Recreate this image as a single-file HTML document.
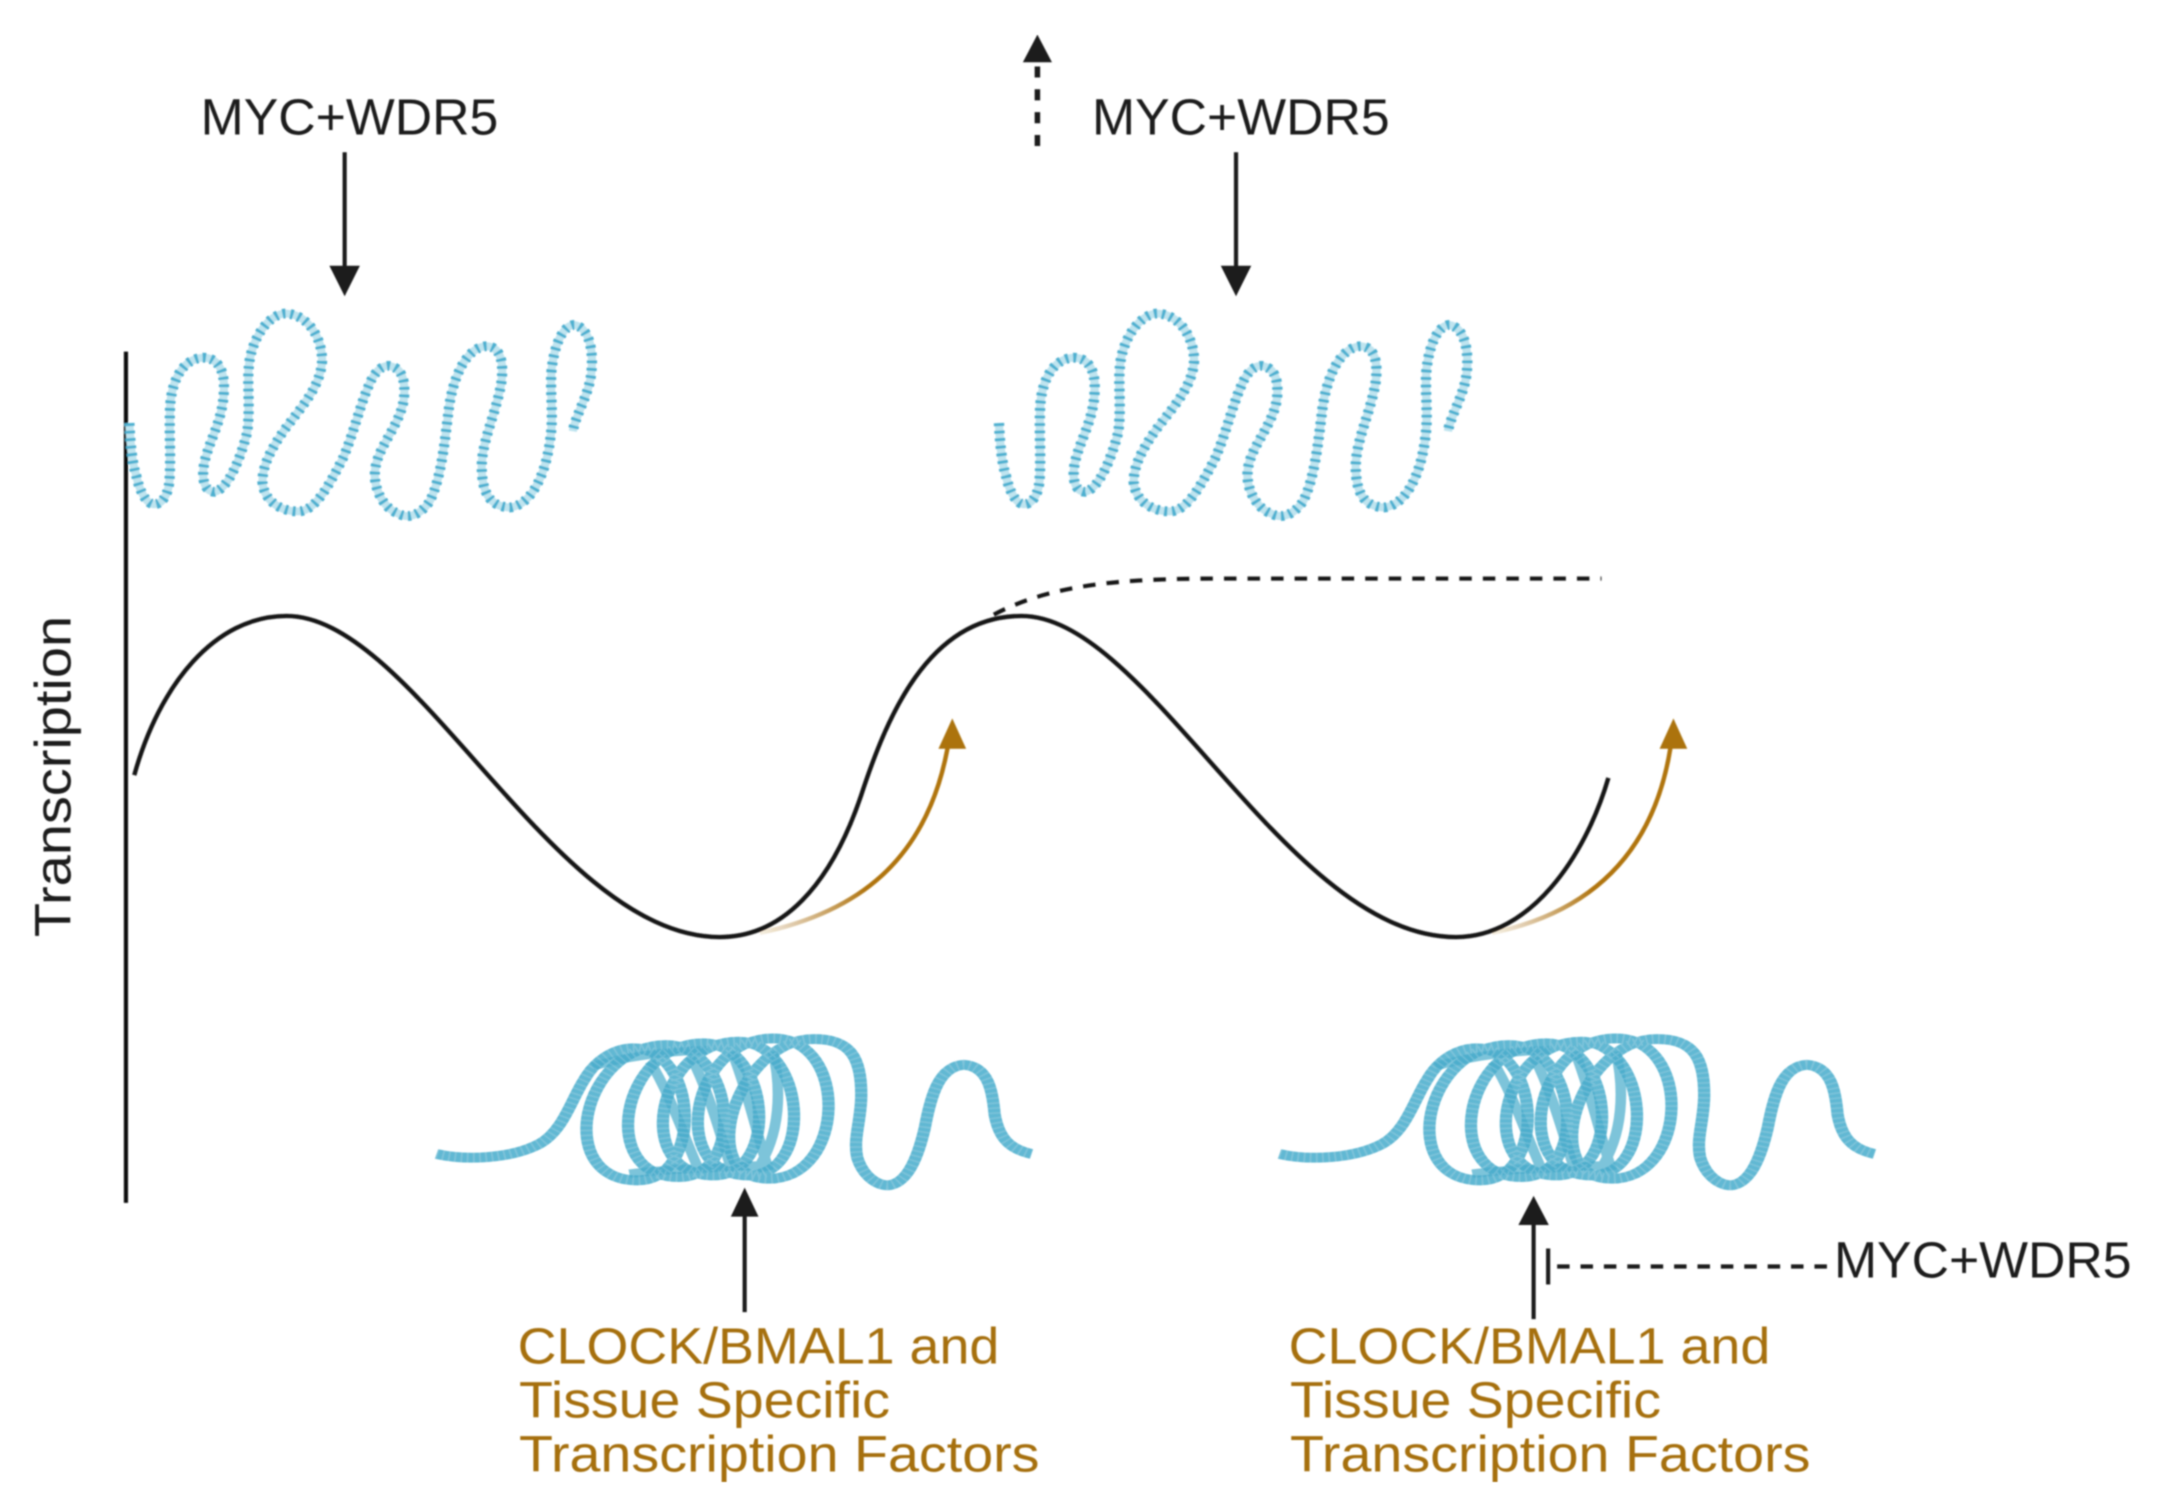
<!DOCTYPE html>
<html>
<head>
<meta charset="utf-8">
<style>
html,body{margin:0;padding:0;background:#fff;width:2171px;height:1509px;overflow:hidden}
svg{display:block}
text{font-family:"Liberation Sans",sans-serif}
.k{font-size:37px;fill:#1a1a1a}
.g{font-size:37px;fill:#a66f10}
</style>
</head>
<body>
<svg width="2171" height="1509" viewBox="0 0 1568.5 1090.2" xmlns="http://www.w3.org/2000/svg">
<defs>
<filter id="soft" x="0" y="0" width="100%" height="100%"><feGaussianBlur stdDeviation="0.55"/></filter>
<linearGradient id="t1" gradientUnits="userSpaceOnUse" x1="549" y1="672" x2="625" y2="640">
<stop offset="0" stop-color="#a8701a" stop-opacity=".12"/><stop offset="1" stop-color="#b0740f"/>
</linearGradient>
<linearGradient id="t2" gradientUnits="userSpaceOnUse" x1="1080" y1="672" x2="1150" y2="640">
<stop offset="0" stop-color="#a8701a" stop-opacity=".12"/><stop offset="1" stop-color="#b0740f"/>
</linearGradient>
<path id="sq" fill="none" d="M75,430 C78,500 85,560 95,590 C105,640 125,675 145,678 C170,680 188,650 192,610 C198,540 190,440 195,370 C200,310 225,235 290,230 C335,230 355,270 352,330 C350,420 310,480 295,550 C285,600 295,640 325,640 C365,630 400,540 420,460 C430,390 420,310 425,260 C430,180 480,95 535,95 C600,100 640,170 640,240 C635,320 580,380 530,450 C490,510 465,560 465,610 C470,670 520,700 570,700 C620,700 660,620 700,540 C730,470 750,380 775,320 C790,280 810,255 835,255 C875,260 885,300 880,355 C870,430 815,490 800,550 C780,620 820,690 860,705 C900,730 935,700 955,670 C990,600 1000,480 1010,400 C1020,300 1060,195 1125,195 C1170,200 1172,260 1165,310 C1150,400 1110,480 1108,560 C1108,640 1130,685 1190,688 C1260,680 1300,570 1310,470 C1320,400 1305,310 1315,250 C1325,180 1350,130 1380,130 C1425,140 1435,210 1430,270 C1425,340 1385,400 1375,455"/>
<path id="coil" fill="none" d="M40,460 C110,480 220,475 290,430 C350,390 370,290 400,235 C425,180 470,140 520,140 C680,140 690,540 530,540 C323,540 393,130 600,130 C767,130 797,530 630,530 C430,530 490,125 690,125 C854,125 879,525 715,525 C515,525 575,120 775,120 C939,120 964,525 800,525 C600,525 660,110 860,110 C1047,110 1037,535 850,535 C663,535 773,112 960,112 C1050,112 1075,170 1075,280 C1075,360 1055,410 1065,470 C1080,530 1115,555 1140,555 C1190,550 1215,460 1230,380 C1245,280 1265,195 1325,190 C1385,195 1395,270 1400,340 C1410,410 1435,445 1490,460"/>
<path id="ex" fill="none" d="M560,180 C610,280 640,400 680,510 M660,165 C710,290 730,400 760,510 M760,150 C800,280 820,400 850,510 M860,150 C880,260 880,400 820,510 M420,195 C500,165 600,150 700,145 M510,520 C600,505 700,505 820,495"/>
</defs>
<rect width="1569" height="1091" fill="#fff"/>
<g filter="url(#soft)">

<!-- axis -->
<line x1="91" y1="254" x2="91" y2="869" stroke="#111" stroke-width="3"/>

<!-- squiggles -->
<g transform="translate(75,204) scale(.2464,.2364)">
<use href="#sq" stroke="#bfe4ef" stroke-width="24"/>
<use href="#sq" stroke="#4db0d0" stroke-width="30" stroke-dasharray="9 14"/>
</g>
<g transform="translate(703,204) scale(.2495,.2364)">
<use href="#sq" stroke="#bfe4ef" stroke-width="24"/>
<use href="#sq" stroke="#4db0d0" stroke-width="30" stroke-dasharray="9 14"/>
</g>

<!-- oscillation curve -->
<path fill="none" stroke="#161616" stroke-width="3.2" d="M97,560 C115,495 155,445 207,445 C300,445 400,677 520,677 C565,677 600,640 622,575 C640,520 670,445 738,445 C830,445 930,677 1052,677 C1105,677 1145,620 1162,562"/>
<!-- dashed plateau -->
<path fill="none" stroke="#161616" stroke-width="3" stroke-dasharray="9 8" d="M718,444 C760,422 810,418 880,418 L1157,418"/>

<!-- gold arrows -->
<path fill="none" stroke="url(#t1)" stroke-width="3.2" d="M549,674 C615,660 672,625 686,532"/>
<polygon points="688,519 698,541 678,541" fill="#ac730f"/>
<path fill="none" stroke="url(#t2)" stroke-width="3.2" d="M1078,674 C1145,660 1197,620 1208,532"/>
<polygon points="1209,519 1219,541 1199,541" fill="#ac730f"/>

<!-- coils -->
<g transform="translate(303.5,724) scale(.2965,.2385)">
<use href="#coil" stroke="#46abcb" stroke-width="30" stroke-opacity=".85"/>
<use href="#ex" stroke="#46abcb" stroke-width="26" stroke-opacity=".7"/>
<use href="#coil" stroke="#fff" stroke-width="30" stroke-opacity=".18" stroke-dasharray="4 11"/>
</g>
<g transform="translate(912.5,724) scale(.2965,.2385)">
<use href="#coil" stroke="#46abcb" stroke-width="30" stroke-opacity=".85"/>
<use href="#ex" stroke="#46abcb" stroke-width="26" stroke-opacity=".7"/>
<use href="#coil" stroke="#fff" stroke-width="30" stroke-opacity=".18" stroke-dasharray="4 11"/>
</g>

<!-- black arrows -->
<line x1="249" y1="110" x2="249" y2="195" stroke="#1a1a1a" stroke-width="3"/>
<polygon points="238,192 260,192 249,214" fill="#1a1a1a"/>
<line x1="893" y1="110" x2="893" y2="195" stroke="#1a1a1a" stroke-width="3"/>
<polygon points="882,192 904,192 893,214" fill="#1a1a1a"/>
<polygon points="739,45 760,45 749.5,25" fill="#1a1a1a"/>
<line x1="749.5" y1="48" x2="749.5" y2="107" stroke="#1a1a1a" stroke-width="4" stroke-dasharray="8 8.5"/>
<line x1="538" y1="875" x2="538" y2="948" stroke="#1a1a1a" stroke-width="3"/>
<polygon points="528,879 548,879 538,858" fill="#1a1a1a"/>
<line x1="1108" y1="880" x2="1108" y2="953" stroke="#1a1a1a" stroke-width="3"/>
<polygon points="1097,885 1119,885 1108,864" fill="#1a1a1a"/>
<line x1="1118.5" y1="902" x2="1118.5" y2="928" stroke="#1a1a1a" stroke-width="3"/>
<line x1="1125" y1="915" x2="1322" y2="915" stroke="#1a1a1a" stroke-width="3" stroke-dasharray="9 7.9"/>

<!-- labels -->
<text class="k" x="145" y="97" textLength="215" lengthAdjust="spacingAndGlyphs">MYC+WDR5</text>
<text class="k" x="789" y="97" textLength="215" lengthAdjust="spacingAndGlyphs">MYC+WDR5</text>
<text class="k" x="1325" y="923" textLength="215" lengthAdjust="spacingAndGlyphs">MYC+WDR5</text>
<text class="k" transform="translate(51,677) rotate(-90)" textLength="232" lengthAdjust="spacingAndGlyphs">Transcription</text>

<text class="g" x="374" y="985" textLength="348" lengthAdjust="spacingAndGlyphs">CLOCK/BMAL1 and</text>
<text class="g" x="375" y="1024" textLength="268" lengthAdjust="spacingAndGlyphs">Tissue Specific</text>
<text class="g" x="375" y="1063" textLength="376" lengthAdjust="spacingAndGlyphs">Transcription Factors</text>
<text class="g" x="931" y="985" textLength="348" lengthAdjust="spacingAndGlyphs">CLOCK/BMAL1 and</text>
<text class="g" x="932" y="1024" textLength="268" lengthAdjust="spacingAndGlyphs">Tissue Specific</text>
<text class="g" x="932" y="1063" textLength="376" lengthAdjust="spacingAndGlyphs">Transcription Factors</text>
</g>
</svg>
</body>
</html>
